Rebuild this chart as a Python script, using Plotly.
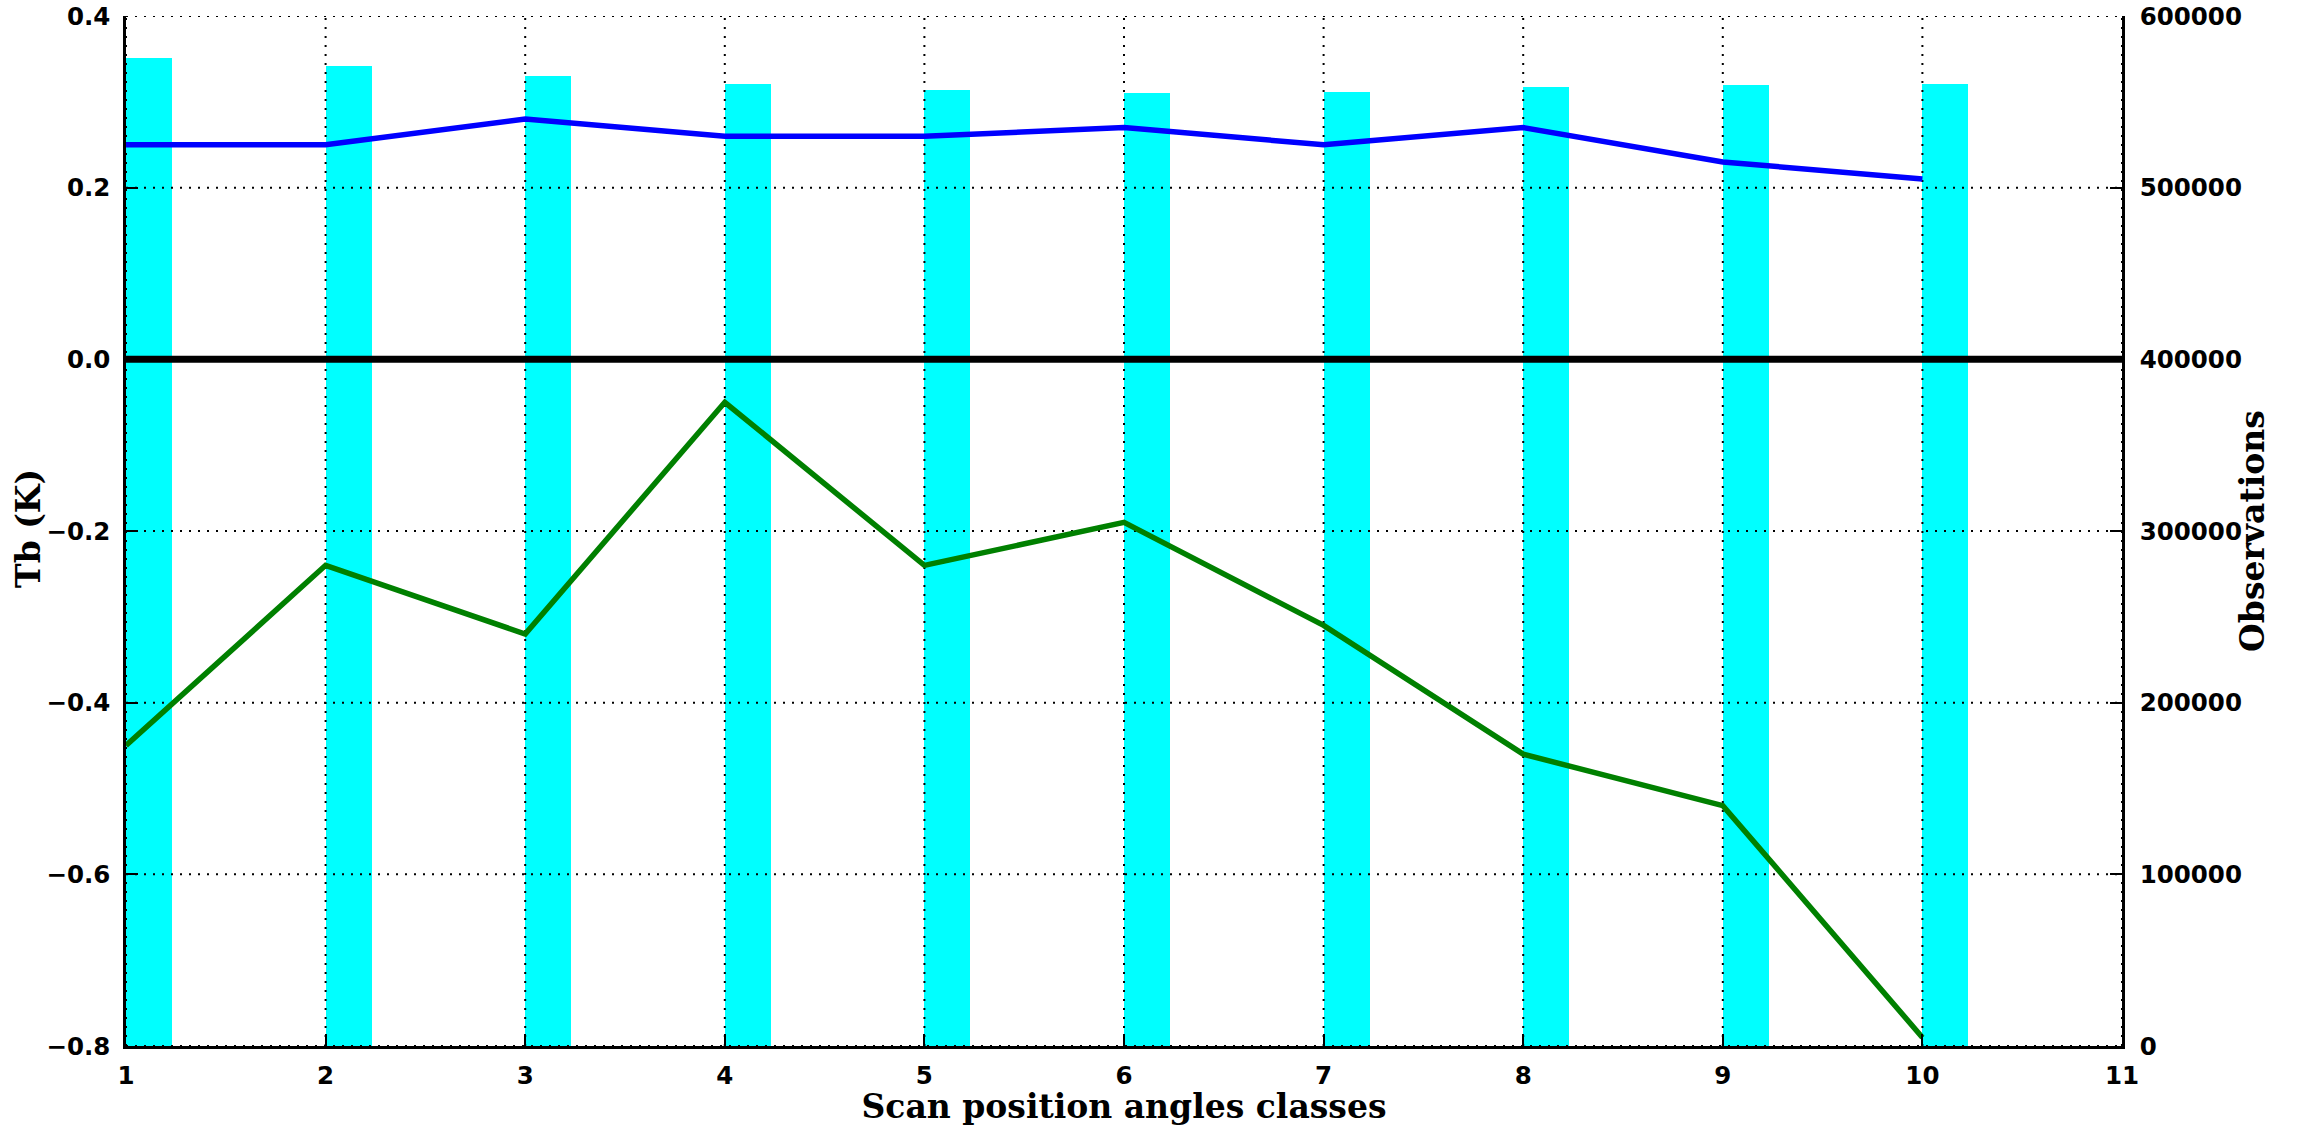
import plotly.graph_objects as go

# ---- data ----
classes = [1, 2, 3, 4, 5, 6, 7, 8, 9, 10]
observations = [575700, 570700, 565000, 560400, 556700, 555100, 555700, 558400, 559900, 560500]
tb_blue = [0.25, 0.25, 0.28, 0.26, 0.26, 0.27, 0.25, 0.27, 0.23, 0.21]
tb_green = [-0.45, -0.24, -0.32, -0.05, -0.24, -0.19, -0.31, -0.46, -0.52, -0.79]
zero_ref = [0, 0]

x_ticks = [1, 2, 3, 4, 5, 6, 7, 8, 9, 10, 11]
tb_ticks = [-0.8, -0.6, -0.4, -0.2, 0.0, 0.2, 0.4]
obs_ticks = [0, 100000, 200000, 300000, 400000, 500000, 600000]

x_range = [x_ticks[0], x_ticks[-1]]
tb_range = [tb_ticks[0], tb_ticks[-1]]
obs_range = [obs_ticks[0], obs_ticks[-1]]

TICKFONT = dict(family="DejaVu Sans", size=24.5, color="black", weight=700)
TITLEFONT = dict(family="DejaVu Serif", size=33, color="black", weight=700)

fig = go.Figure()

# bars (observations, right axis)
fig.add_trace(go.Bar(
    x=classes, y=observations, width=0.23, offset=0,
    marker=dict(color="#00FFFF", line=dict(width=0)),
    yaxis="y", hoverinfo="skip", showlegend=False,
))

# dotted grid drawn above the bars
gx, gy = [], []
for v in obs_ticks:
    gx += [x_range[0], x_range[1], None]
    gy += [v, v, None]
for v in x_ticks:
    gx += [v, v, None]
    gy += [obs_range[0], obs_range[1], None]
fig.add_trace(go.Scatter(
    x=gx, y=gy, mode="lines", yaxis="y",
    line=dict(color="black", width=2, dash="2px,7px"),
    hoverinfo="skip", showlegend=False,
))

# lines (Tb, left axis)
fig.add_trace(go.Scatter(
    x=x_range, y=zero_ref, mode="lines", yaxis="y2",
    line=dict(color="black", width=7), hoverinfo="skip", showlegend=False,
))
fig.add_trace(go.Scatter(
    x=classes, y=tb_blue, mode="lines", yaxis="y2",
    line=dict(color="#0000FF", width=5.5), showlegend=False,
))
fig.add_trace(go.Scatter(
    x=classes, y=tb_green, mode="lines", yaxis="y2",
    line=dict(color="#008000", width=5.5), showlegend=False,
))

axis_common = dict(
    ticks="inside", ticklen=12, tickwidth=2, tickcolor="black",
    showline=True, linecolor="black", linewidth=2.5,
    showgrid=False, zeroline=False, tickfont=TICKFONT, automargin=False,
    ticklabeloverflow="allow",
)

fig.update_layout(
    width=2297, height=1126,
    margin=dict(l=126, r=175, t=16, b=80),
    plot_bgcolor="white", paper_bgcolor="white",
    bargap=0,
    xaxis=dict(
        range=x_range, tickvals=x_ticks, ticklabelstandoff=6,
        title=dict(text="Scan position angles classes", font=TITLEFONT, standoff=6),
        **axis_common,
    ),
    yaxis=dict(
        side="right", range=obs_range, tickvals=obs_ticks, tickformat="d",
        ticklabelstandoff=10,
        **axis_common,
    ),
    yaxis2=dict(
        side="left", overlaying="y", anchor="x", range=tb_range,
        tickvals=tb_ticks, tickformat=".1f", ticklabelstandoff=8,
        **axis_common,
    ),
    annotations=[
        dict(text="Tb (K)", xref="paper", yref="paper", x=-0.0486, y=0.503,
             xanchor="center", yanchor="middle", textangle=-90,
             showarrow=False, font=TITLEFONT),
        dict(text="Observations", xref="paper", yref="paper", x=1.0651, y=0.5,
             xanchor="center", yanchor="middle", textangle=-90,
             showarrow=False, font=TITLEFONT),
    ],
)

# remove the default page margin so the figure fills the window exactly
fig.write_html("out.html", config={"displayModeBar": False},
               post_script="document.body.style.margin='0';")
